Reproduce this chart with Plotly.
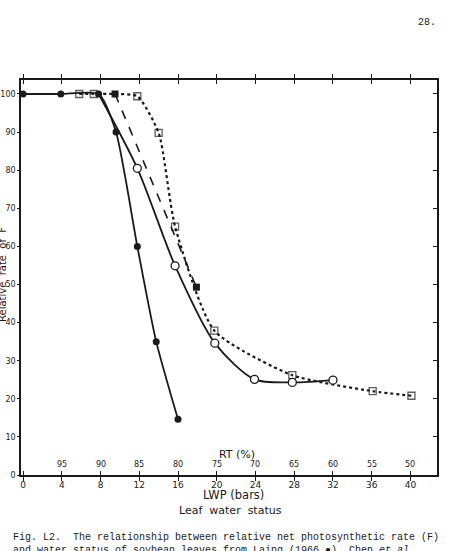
import plotly.graph_objects as go

# Laing (1966) - filled circles, solid line
laing_x = [0, 3.9, 7.8, 9.6, 11.8, 13.75, 16.0]
laing_y = [100, 100, 100, 90, 60, 35, 14.6]

# open circles, solid line
oc_x = [7.8, 11.8, 15.7, 19.8, 23.9, 27.8, 32.0]
oc_y = [100, 80.5, 54.9, 34.6, 25.1, 24.3, 24.9]

# filled squares, dashed line
fs_x = [9.5, 17.9]
fs_y = [100, 49.3]

# open squares, dotted line
os_x = [5.8, 7.3, 9.5, 11.8, 14.0, 15.7, 19.75, 27.8, 36.1, 40.1]
os_y = [100, 100, 100, 99.4, 89.8, 65.2, 37.9, 26.2, 22.0, 20.8]
os_show = [1, 1, 0, 1, 1, 1, 1, 1, 1, 1]

lwp_ticks = [0, 4, 8, 12, 16, 20, 24, 28, 32, 36, 40]
rt_pos = [4, 8, 12, 16, 20, 24, 28, 32, 36, 40]
rt_labels = ["95", "90", "85", "80", "75", "70", "65", "60", "55", "50"]
y_ticks = [0, 10, 20, 30, 40, 50, 60, 70, 80, 90, 100]

INK = "#1a1a1a"
FONT = "DejaVu Sans"

W, H = 459, 551
ML, MR, MT, MB = 21, 22, 80, 76

fig = go.Figure()

fig.add_trace(go.Scatter(
    x=os_x, y=os_y, mode="lines+markers",
    line=dict(color=INK, width=2.2, dash="dot", shape="spline", smoothing=0.6),
    marker=dict(symbol="square-open", size=[7 * s for s in os_show], color=INK,
                line=dict(width=1.3, color=INK)),
    showlegend=False))

fig.add_trace(go.Scatter(
    x=fs_x, y=fs_y, mode="lines+markers",
    line=dict(color=INK, width=1.6, dash="dash"),
    marker=dict(symbol="square", size=7, color=INK),
    showlegend=False))

fig.add_trace(go.Scatter(
    x=oc_x, y=oc_y, mode="lines",
    line=dict(color=INK, width=1.8, shape="spline", smoothing=0.8),
    showlegend=False))
fig.add_trace(go.Scatter(
    x=oc_x[1:], y=oc_y[1:], mode="markers",
    marker=dict(symbol="circle", size=8, color="white", line=dict(width=1.3, color=INK)),
    showlegend=False))

fig.add_trace(go.Scatter(
    x=laing_x, y=laing_y, mode="lines+markers",
    line=dict(color=INK, width=1.8, shape="spline", smoothing=0.6),
    marker=dict(symbol="circle", size=7, color=INK),
    showlegend=False))

# invisible trace for the right-side axis
fig.add_trace(go.Scatter(x=[0], y=[0], yaxis="y2", mode="markers",
                         marker=dict(opacity=0), showlegend=False, hoverinfo="skip"))

for p, t in zip(rt_pos, rt_labels):
    fig.add_annotation(x=p, y=1.0, text=t, showarrow=False, xref="x", yref="y",
                       yanchor="bottom", font=dict(family=FONT, size=8, color=INK))

fig.add_annotation(x=22.1, y=3.2, text="RT (%)", showarrow=False, xref="x", yref="y",
                   yanchor="bottom", font=dict(family=FONT, size=11, color=INK))

fig.update_layout(
    width=W, height=H,
    margin=dict(l=ML, r=MR, t=MT, b=MB),
    paper_bgcolor="white", plot_bgcolor="white",
    xaxis=dict(range=[-0.21, 42.74], tickvals=lwp_ticks, ticks="inside", ticklen=4,
               tickcolor=INK, showline=True, linecolor=INK, linewidth=1.5, mirror="allticks",
               showgrid=False, zeroline=False, automargin=False, ticklabelstandoff=0,
               tickfont=dict(family=FONT, size=9, color=INK)),
    yaxis=dict(range=[0, 103.67], tickvals=y_ticks, ticks="outside", ticklen=2,
               tickcolor=INK, showline=True, linecolor=INK, linewidth=1.5, mirror=True,
               showgrid=False, zeroline=False, ticklabelstandoff=0, automargin=False,
               tickfont=dict(family=FONT, size=8, color=INK)),
    yaxis2=dict(range=[0, 103.67], tickvals=y_ticks, ticks="inside", ticklen=4,
                tickcolor=INK, overlaying="y", side="right", showticklabels=False,
                showgrid=False, zeroline=False, showline=False, automargin=False),
)

def py(pix):
    return (H - MB - pix) / (H - MT - MB)

def px(pix):
    return (pix - ML) / (W - ML - MR)

ann_common = dict(showarrow=False, xref="paper", yref="paper", yanchor="middle", xanchor="center")
fig.add_annotation(x=px(233), y=py(495), text="LWP (bars)", font=dict(family=FONT, size=11.5, color=INK), **ann_common)
fig.add_annotation(x=px(230), y=py(510), text="Leaf  water  status", font=dict(family=FONT, size=11, color=INK), **ann_common)
fig.add_annotation(x=px(2), y=py(275), text="Relative  rate  of  F", textangle=-90,
                   font=dict(family=FONT, size=10, color=INK), **ann_common)
fig.add_annotation(x=px(427), y=py(22), text="28.", font=dict(family="Liberation Mono", size=10, color=INK), **ann_common)
cap = dict(showarrow=False, xref="paper", yref="paper", yanchor="middle", xanchor="left", align="left")
fig.add_annotation(x=px(11), y=py(537),
                   text="Fig. L2.  The relationship between relative net photosynthetic rate (F)",
                   font=dict(family="Liberation Mono", size=10, color=INK), **cap)
fig.add_annotation(x=px(11), y=py(550),
                   text="and water status of soybean leaves from Laing (1966,\u25cf). Chen <i>et al.</i>",
                   font=dict(family="Liberation Mono", size=10, color=INK), **cap)

fig.write_html("out.html")
